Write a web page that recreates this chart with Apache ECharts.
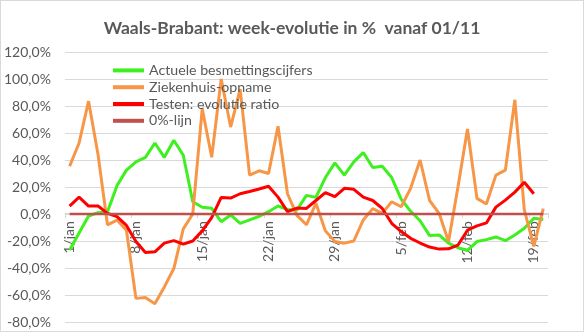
<!DOCTYPE html>
<html>
<head>
<meta charset="utf-8">
<script src="https://cdn.jsdelivr.net/npm/echarts@6/dist/echarts.min.js"></script>
<style>
  html, body { margin: 0; padding: 0; background: #ffffff; }
  #chart { width: 584px; height: 332px; box-sizing: border-box; border: 1px solid #d9d9d9; }
</style>
</head>
<body>
<div id="chart"></div>
<script>
// Days from 1 January to 20 February
const dagen = [
  '1/jan','2/jan','3/jan','4/jan','5/jan','6/jan','7/jan','8/jan','9/jan','10/jan',
  '11/jan','12/jan','13/jan','14/jan','15/jan','16/jan','17/jan','18/jan','19/jan','20/jan',
  '21/jan','22/jan','23/jan','24/jan','25/jan','26/jan','27/jan','28/jan','29/jan','30/jan',
  '31/jan','1/feb','2/feb','3/feb','4/feb','5/feb','6/feb','7/feb','8/feb','9/feb',
  '10/feb','11/feb','12/feb','13/feb','14/feb','15/feb','16/feb','17/feb','18/feb','19/feb',
  '20/feb'
];

// Week-on-week change, in percent
const besmettingen = [
  -26.6, -14, -1.5, 1, 1.7, 21, 32.5, 38.6, 42, 52.6,
  42, 54.6, 43.5, 9.1, 5, 4.2, -5.7, -0.7, -6.9, -4.4,
  -1.8, 1.7, 5.9, 3.4, 3, 13.8, 12.3, 27, 37.9, 28.8,
  38.6, 45.5, 34.4, 35.4, 27, 11, 2, -5, -16, -15.5,
  -21.6, -25, -27, -20.4, -19, -17, -19.8, -15.5, -10.6, -3.2,
  -4
];

const ziekenhuis = [
  35.4, 52.6, 83.6, 44, -8, -4.5, -12, -62.5, -61.8, -66.5,
  -54, -40.4, -11, 0, 78, 42, 100, 64.4, 92.5, 28.8,
  32, 30, 65, 15, -1, -8, 7.9, -12.5, -20.4, -21.6,
  -20, -4.4, 4, 0.5, 9.1, 5.4, 19, 40, 10, 0.5,
  -20.4, 20.2, 63, 11.6, 7.4, 28.8, 32.5, 84.6, 3, -24,
  4
];

const testen = [
  5.9, 12.5, 5.9, 5.9, 0.5, -2, -8.5, -20.4, -28.5, -28,
  -21.6, -19.7, -22.3, -20, -12.5, -2.7, 12.3, 11.8, 15, 16.7,
  18.5, 20.6, 12.5, 1.8, 4.4, 4.1, 10, 15.8, 12.8, 19,
  18.3, 12.5, 10, 4.1, -6.9, -13, -18, -21.5, -24.5, -26,
  -25.8, -23, -12, -8.8, -6.6, 5.1, 10.3, 16.2, 23.5, 15
];

const nulLijn = dagen.map(() => 0);

// Value axis range
const yMin = -80;
const yMax = 120;
const yStap = 20;

const tekstKleur = '#595959';
const lettertype = 'Lato, "Liberation Sans", sans-serif';

const rooster = { left: 61, right: 35, top: 51, bottom: 9 };
const roosterHoogte = 332 - rooster.top - rooster.bottom;
// The category axis sits on the 0% level, with its labels just under it
const asVerschuiving = -roosterHoogte * (0 - yMin) / (yMax - yMin);

const chart = echarts.init(document.getElementById('chart'), null, { renderer: 'canvas' });

function lijn(naam, data, kleur, breedte) {
  return {
    name: naam,
    type: 'line',
    data: data,
    symbol: 'none',
    showSymbol: false,
    smooth: false,
    lineStyle: { color: kleur, width: breedte },
    itemStyle: { color: kleur },
    emphasis: { disabled: true },
    animation: false
  };
}

chart.setOption({
  animation: false,
  backgroundColor: '#ffffff',
  title: {
    text: 'Waals-Brabant: week-evolutie in %  vanaf 01/11',
    left: 'center',
    top: 13,
    textStyle: { color: tekstKleur, fontFamily: lettertype, fontWeight: 'bold', fontSize: 17.5 }
  },
  legend: {
    orient: 'vertical',
    left: 112,
    top: 61,
    padding: 0,
    itemWidth: 31,
    itemHeight: 4,
    itemGap: 0,
    icon: 'rect',
    textStyle: { color: tekstKleur, fontFamily: lettertype, fontSize: 14.2, lineHeight: 16.8 },
    data: ['Actuele besmettingscijfers', 'Ziekenhuis-opname', 'Testen: evolutie ratio', '0%-lijn']
  },
  grid: Object.assign({ containLabel: false }, rooster),
  xAxis: {
    type: 'category',
    data: dagen,
    boundaryGap: true,
    offset: asVerschuiving,
    axisLine: { onZero: false, lineStyle: { color: '#d9d9d9', width: 1 } },
    axisTick: { show: true, interval: 6, length: 5, lineStyle: { color: '#d9d9d9' } },
    axisLabel: {
      interval: 6,
      rotate: 90,
      margin: 8,
      color: tekstKleur,
      fontFamily: lettertype,
      fontSize: 14
    },
    splitLine: { show: false }
  },
  yAxis: {
    type: 'value',
    min: yMin,
    max: yMax,
    interval: yStap,
    axisLine: { show: false },
    axisTick: { show: false },
    axisLabel: {
      margin: 14,
      color: tekstKleur,
      fontFamily: lettertype,
      fontSize: 14,
      formatter: v => v.toFixed(1).replace('.', ',') + '%'
    },
    splitLine: { lineStyle: { color: '#d9d9d9', width: 1 } }
  },
  series: [
    lijn('Actuele besmettingscijfers', besmettingen, '#3ef01e', 3),
    lijn('Ziekenhuis-opname', ziekenhuis, '#f79646', 3),
    lijn('Testen: evolutie ratio', testen, '#ff0000', 3),
    lijn('0%-lijn', nulLijn, '#c0504d', 2.5)
  ]
});
</script>
</body>
</html>
